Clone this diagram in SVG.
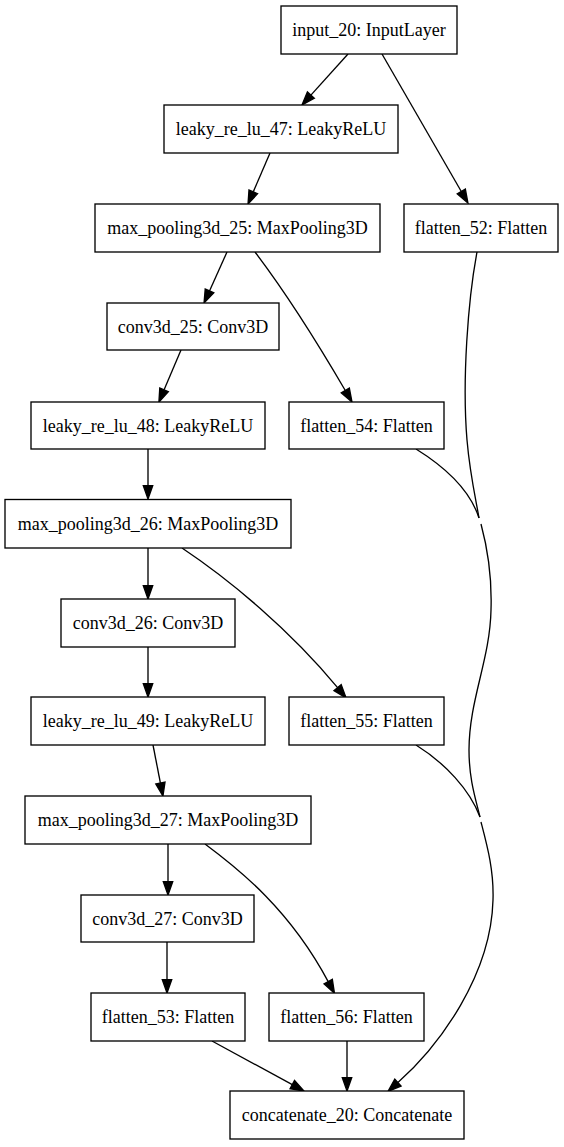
<svg xmlns="http://www.w3.org/2000/svg" width="564" height="1147" viewBox="0 0 564 1147">
  <style>
    .node rect { fill: #ffffff; stroke: #000000; stroke-width: 1.33; }
    .node text { font-family: "Liberation Serif", "Times New Roman", serif; font-size: 18px; fill: #000000; text-anchor: middle; }
    .edges path { fill: none; stroke: #000000; stroke-width: 1.33; }
    .edges .arr { marker-end: url(#head); }
  </style>
  <defs>
    <marker id="head" markerUnits="userSpaceOnUse" markerWidth="16" markerHeight="12" viewBox="-1 -6 16 12" refX="0" refY="0" orient="auto" overflow="visible">
      <path d="M0,-4.7 L13.3,0 L0,4.7 Z" fill="#000000" stroke="#000000" stroke-width="1.33"/>
    </marker>
  </defs>
  <rect width="564" height="1147" fill="#ffffff"/>

  <g class="edges" id="connectors">
    <path class="arr" d="M348,54 L310.9,95.1"/>
    <path class="arr" d="M382,54 L461.3,191.5"/>
    <path class="arr" d="M270,153 L253.3,191.8"/>
    <path class="arr" d="M227,252 L209.5,290.9"/>
    <path class="arr" d="M255,252 C280,285 310,330 345.3,390.5"/>
    <path class="arr" d="M181,350 L164.1,389.8"/>
    <path class="arr" d="M148,449 L148,485.7"/>
    <path class="arr" d="M148,548 L148,585.7"/>
    <path class="arr" d="M182,548 C230,580 290,630 337.6,687.6"/>
    <path class="arr" d="M148,647 L148,683.7"/>
    <path class="arr" d="M153,745 L160.4,783"/>
    <path class="arr" d="M168,844 L168,881.7"/>
    <path class="arr" d="M205,844 C240,870 290,910 328.2,981.6"/>
    <path class="arr" d="M167,942 L167,979.7"/>
    <path class="arr" d="M212,1041 L292.3,1084.6"/>
    <path class="arr" d="M347,1041 L347,1077.7"/>
    <!-- flatten branches merged into concatenate -->
    <path d="M477,252 C468,300 462,380 467,440 C470,475 476,500 479,518"/>
    <path d="M416,449 C445,467 470,490 479,518"/>
    <path d="M481,524 C488,550 492,580 491,610 C490,660 469,700 469,750 C469,780 476,800 480,817"/>
    <path d="M416,745 C445,763 470,790 480,817"/>
    <path class="arr" d="M481,822 C487,845 494,870 493,900 C491,975 440,1045 397.9,1082.6"/>
  </g>

  <g class="node" id="input_20">
    <rect x="281" y="6" width="176" height="48"/>
    <text x="369" y="36">input_20: InputLayer</text>
  </g>
  <g class="node" id="leaky_re_lu_47">
    <rect x="164" y="105" width="234" height="48"/>
    <text x="281" y="135">leaky_re_lu_47: LeakyReLU</text>
  </g>
  <g class="node" id="max_pooling3d_25">
    <rect x="95" y="204" width="285" height="48"/>
    <text x="237.5" y="234">max_pooling3d_25: MaxPooling3D</text>
  </g>
  <g class="node" id="flatten_52">
    <rect x="404" y="204" width="154" height="48"/>
    <text x="481" y="234">flatten_52: Flatten</text>
  </g>
  <g class="node" id="conv3d_25">
    <rect x="107" y="303" width="172" height="47"/>
    <text x="193" y="333">conv3d_25: Conv3D</text>
  </g>
  <g class="node" id="leaky_re_lu_48">
    <rect x="31" y="402" width="234" height="47"/>
    <text x="148" y="432">leaky_re_lu_48: LeakyReLU</text>
  </g>
  <g class="node" id="flatten_54">
    <rect x="289" y="402" width="155" height="47"/>
    <text x="366.5" y="432">flatten_54: Flatten</text>
  </g>
  <g class="node" id="max_pooling3d_26">
    <rect x="5" y="499.5" width="286" height="48.5"/>
    <text x="148" y="530">max_pooling3d_26: MaxPooling3D</text>
  </g>
  <g class="node" id="conv3d_26">
    <rect x="61" y="599" width="174" height="48"/>
    <text x="148" y="629">conv3d_26: Conv3D</text>
  </g>
  <g class="node" id="leaky_re_lu_49">
    <rect x="31" y="697" width="234" height="48"/>
    <text x="148" y="727">leaky_re_lu_49: LeakyReLU</text>
  </g>
  <g class="node" id="flatten_55">
    <rect x="289" y="697" width="155" height="48"/>
    <text x="366.5" y="727">flatten_55: Flatten</text>
  </g>
  <g class="node" id="max_pooling3d_27">
    <rect x="25" y="796" width="286" height="48"/>
    <text x="168" y="826">max_pooling3d_27: MaxPooling3D</text>
  </g>
  <g class="node" id="conv3d_27">
    <rect x="81" y="895" width="173" height="47"/>
    <text x="167.5" y="925">conv3d_27: Conv3D</text>
  </g>
  <g class="node" id="flatten_53">
    <rect x="91" y="993" width="154" height="48"/>
    <text x="168" y="1023">flatten_53: Flatten</text>
  </g>
  <g class="node" id="flatten_56">
    <rect x="269" y="993" width="155" height="48"/>
    <text x="346.5" y="1023">flatten_56: Flatten</text>
  </g>
  <g class="node" id="concatenate_20">
    <rect x="230" y="1091" width="234" height="48"/>
    <text x="347" y="1121">concatenate_20: Concatenate</text>
  </g>
</svg>
